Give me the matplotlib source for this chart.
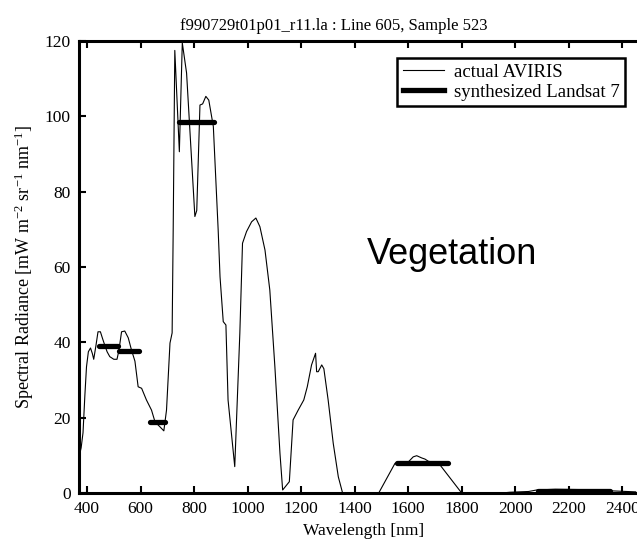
import matplotlib
matplotlib.use("Agg")
import matplotlib.pyplot as plt
from matplotlib.lines import Line2D

# AVIRIS spectrum
wavelength = [370, 378, 385, 392, 398, 405, 413, 420, 425, 433, 441, 450, 458, 466, 475,
              485, 500, 512, 519, 529, 541, 554, 566, 579, 591, 604, 622, 641, 654, 672,
              687, 697, 710, 718, 722, 728, 745, 756, 772, 803, 810, 822, 832, 844, 855,
              872, 890, 897, 909, 919, 927, 952, 971, 981, 996, 1015, 1031, 1046, 1065,
              1083, 1102, 1121, 1131, 1156, 1170, 1189, 1210, 1223, 1239, 1254, 1258,
              1264, 1277, 1285, 1301, 1320, 1339, 1355, 1400, 1490, 1551, 1600, 1619,
              1632, 1651, 1663, 1676, 1713, 1800, 1900, 1950, 1980, 2050, 2080, 2150,
              2250, 2350, 2450]
radiance = [9.5, 12, 16, 26, 33.5, 37.5, 38.5, 37, 35.5, 39, 42.8, 42.8, 41, 39.3, 37.5,
            36.2, 35.5, 35.5, 37.8, 42.8, 43, 41.2, 38, 35, 28.2, 27.8, 24.7, 22, 18.9, 17.6,
            16.5, 22, 39.8, 42.5, 70, 117.5, 90.6, 119.5, 111.5, 73.4, 75, 103, 103.3, 105.3, 104.3,
            97.3, 69.9, 57.4, 45.5, 44.6, 24.7, 7, 42.4, 66.3, 69.4, 72, 73, 70.7, 64.5,
            53.9, 33.5, 10.5, 0.8, 3, 19.4, 22, 24.7, 28.2, 34, 37.1, 32.2,
            32.2, 34, 33, 24.7, 13.2, 4.3, 0, 0, 0, 7.9, 8.2, 9.6,
            9.9, 9.3, 9.0, 8.4, 8.0, 0, 0, 0, 0.2, 0.4, 0.8, 1.0,
            0.9, 0.6, 0.3]

# Synthesized Landsat 7 bands
band_start = [445, 520, 635, 745, 1560, 2085]
band_end = [515, 595, 690, 875, 1750, 2355]
band_value = [39.0, 37.7, 18.9, 98.4, 7.9, 0.5]

xticks = [400, 600, 800, 1000, 1200, 1400, 1600, 1800, 2000, 2200, 2400]
yticks = [0, 20, 40, 60, 80, 100, 120]

serif = ["Liberation Serif", "DejaVu Serif"]
plt.rcParams["mathtext.fontset"] = "custom"
plt.rcParams["mathtext.rm"] = "Liberation Serif"
plt.rcParams["mathtext.it"] = "Liberation Serif:italic"

fig = plt.figure(figsize=(6.37, 5.43), dpi=100)
ax = fig.add_axes([79 / 637, 1 - 493 / 543, 570 / 637, 452 / 543])

ax.plot(wavelength, radiance, color="black", lw=0.8, label="actual AVIRIS")
for s, e, v in zip(band_start, band_end, band_value):
    ax.plot([s, e], [v, v], color="black", lw=3.8, solid_capstyle="round")

ax.set_xlim(370, 2500)
ax.set_ylim(0, 120)
ax.set_xticks(xticks)
ax.set_yticks(yticks)
for lab in ax.get_xticklabels() + ax.get_yticklabels():
    lab.set_fontfamily(serif)
    lab.set_fontsize(12.5)
ax.tick_params(direction="in", top=True, right=True, length=5, width=1.5,
               pad=6)
for sp in ax.spines.values():
    sp.set_linewidth(2.2)

ax.set_xlabel("Wavelength [nm]", family=serif, fontsize=12.5, labelpad=4)
ax.set_ylabel(r"Spectral Radiance [mW m$^{-2}$ sr$^{-1}$ nm$^{-1}$]",
              family=serif, fontsize=13, labelpad=6)
ax.set_title("f990729t01p01_r11.la : Line 605, Sample 523", family=serif,
             fontsize=12, pad=8, x=0.447)

ax.text(1764, 63.2, "Vegetation", family=["Liberation Sans", "DejaVu Sans"],
        fontsize=26, ha="center", va="center")

handles = [Line2D([], [], color="black", lw=0.8),
           Line2D([], [], color="black", lw=3.8)]
leg = ax.legend(handles, ["actual AVIRIS", "synthesized Landsat 7"],
                loc="upper right", bbox_to_anchor=(0.958, 0.962),
                borderaxespad=0, prop={"family": serif, "size": 13.5},
                fancybox=False, framealpha=1, edgecolor="black",
                handlelength=2.2, handletextpad=0.5, borderpad=0.3,
                labelspacing=0.15)
leg.get_frame().set_linewidth(1.8)

fig.savefig("out.png", dpi=100)
